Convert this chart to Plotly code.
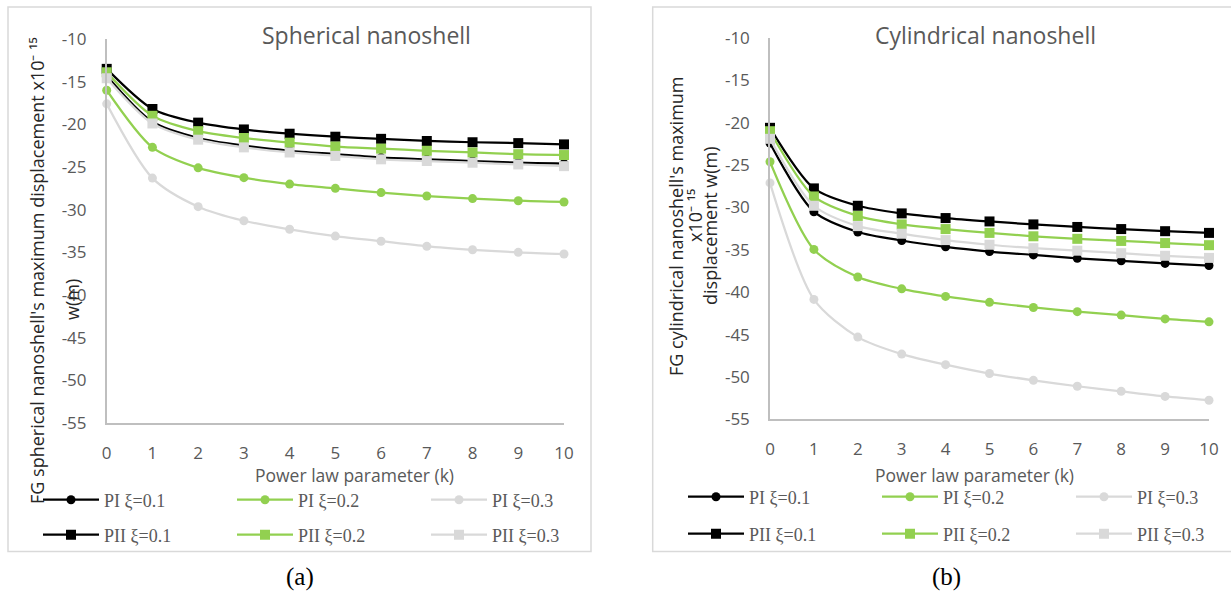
import plotly.graph_objects as go

W, H = 1231, 592

k = list(range(11))
x_ticks = [str(i) for i in k]
y_tickvals = [-10, -15, -20, -25, -30, -35, -40, -45, -50, -55]
y_ticktext = ["-10", "-15", "-20", "-25", "-30", "-35", "-40", "-45", "-50", "-55"]

series_names = ["PI ξ=0.1", "PI ξ=0.2", "PI ξ=0.3", "PII ξ=0.1", "PII ξ=0.2", "PII ξ=0.3"]

# Spherical nanoshell (a)
sph_PI_01 = [-14.3, -19.7, -21.6, -22.5, -23.1, -23.5, -23.9, -24.1, -24.3, -24.5, -24.6]
sph_PI_02 = [-16.0, -22.7, -25.1, -26.25, -27.0, -27.5, -28.0, -28.4, -28.7, -28.95, -29.1]
sph_PI_03 = [-17.6, -26.3, -29.65, -31.3, -32.3, -33.1, -33.7, -34.3, -34.7, -35.0, -35.2]
sph_PII_01 = [-13.5, -18.2, -19.8, -20.6, -21.1, -21.45, -21.7, -21.95, -22.1, -22.2, -22.35]
sph_PII_02 = [-13.9, -19.0, -20.8, -21.6, -22.15, -22.6, -22.85, -23.1, -23.3, -23.5, -23.6]
sph_PII_03 = [-14.6, -19.9, -21.8, -22.7, -23.3, -23.7, -24.1, -24.3, -24.5, -24.7, -24.9]

# Cylindrical nanoshell (b)
cyl_PI_01 = [-22.4, -30.5, -32.9, -33.9, -34.65, -35.2, -35.6, -36.0, -36.3, -36.6, -36.85]
cyl_PI_02 = [-24.6, -34.95, -38.2, -39.6, -40.5, -41.2, -41.8, -42.3, -42.7, -43.15, -43.5]
cyl_PI_03 = [-27.1, -40.85, -45.3, -47.3, -48.55, -49.6, -50.4, -51.1, -51.7, -52.3, -52.75]
cyl_PII_01 = [-20.6, -27.75, -29.8, -30.7, -31.25, -31.65, -32.0, -32.3, -32.55, -32.8, -33.0]
cyl_PII_02 = [-21.0, -28.7, -31.0, -32.0, -32.55, -33.0, -33.4, -33.7, -33.95, -34.2, -34.45]
cyl_PII_03 = [-21.9, -29.8, -32.2, -33.1, -33.85, -34.4, -34.8, -35.1, -35.4, -35.7, -35.95]

colors = ["#000000", "#92D050", "#D9D9D9", "#000000", "#92D050", "#D9D9D9"]
symbols = ["circle", "circle", "circle", "square", "square", "square"]

sph = [sph_PI_01, sph_PI_02, sph_PI_03, sph_PII_01, sph_PII_02, sph_PII_03]
cyl = [cyl_PI_01, cyl_PI_02, cyl_PI_03, cyl_PII_01, cyl_PII_02, cyl_PII_03]

fig = go.Figure()

for i, (name, vals) in enumerate(zip(series_names, sph)):
    fig.add_trace(go.Scatter(
        x=k, y=vals, name=name, mode="lines+markers",
        line=dict(color=colors[i], width=2.25, shape="spline", smoothing=0.8),
        marker=dict(color=colors[i], symbol=symbols[i], size=9 if i < 3 else 10),
        xaxis="x", yaxis="y", cliponaxis=False,
        legend="legend" if i < 3 else "legend2",
    ))
for i, (name, vals) in enumerate(zip(series_names, cyl)):
    fig.add_trace(go.Scatter(
        x=k, y=vals, name=name, mode="lines+markers",
        line=dict(color=colors[i], width=2.25, shape="spline", smoothing=0.8),
        marker=dict(color=colors[i], symbol=symbols[i], size=9 if i < 3 else 10),
        xaxis="x2", yaxis="y2", cliponaxis=False,
        legend="legend3" if i < 3 else "legend4",
    ))

tick_font = dict(family="Open Sans", size=17, color="#595959")

def xaxis_cfg(domain, anchor):
    return dict(domain=domain, anchor=anchor, range=[0, 10], tickvals=k, ticktext=x_ticks,
                showgrid=False, zeroline=False, showline=True, linecolor="#BFBFBF",
                linewidth=1.5, ticks="", tickfont=tick_font, ticklabelstandoff=14,
                fixedrange=True)

def yaxis_cfg(domain, anchor):
    return dict(domain=domain, anchor=anchor, range=[-55, -10], tickvals=y_tickvals,
                ticktext=y_ticktext, showgrid=False, zeroline=False, showline=True,
                linecolor="#BFBFBF", linewidth=1.5, ticks="", tickfont=tick_font,
                ticklabelstandoff=15, fixedrange=True)

def px_x(p):
    return p / W

def px_y(p):
    return 1 - p / H

legend_font = dict(family="Liberation Serif", size=18, color="#595959")

def legend_cfg(xp, yp):
    return dict(orientation="h", x=px_x(xp), y=px_y(yp), xanchor="left", yanchor="middle",
                font=legend_font, entrywidth=123, entrywidthmode="pixels", itemwidth=56,
                bgcolor="rgba(0,0,0,0)", traceorder="normal")

def note(text, xp, yp, size, color, family="Open Sans", angle=0):
    return dict(text=text, x=px_x(xp), y=px_y(yp), xref="paper", yref="paper",
                xanchor="center", yanchor="middle", showarrow=False, textangle=angle,
                font=dict(family=family, size=size, color=color))

annotations = [
    note("Spherical nanoshell", 366, 35, 23, "#595959"),
    note("Cylindrical nanoshell", 985, 35, 23, "#595959"),
    note("Power law parameter (k)", 354, 475, 17.5, "#595959"),
    note("Power law parameter (k)", 974, 475, 17.5, "#595959"),
    note("FG spherical nanoshell's maximum displacement x10⁻ ¹⁵", 37, 271, 18, "#262626", angle=-90),
    note("w(m)", 72, 300, 18, "#262626", angle=-90),
    note("FG cylindrical nanoshell's maximum", 676, 226, 18, "#262626", angle=-90),
    note("x10⁻ ¹⁵", 695, 216, 18, "#262626", angle=-90),
    note("displacement w(m)", 710, 226, 18, "#262626", angle=-90),
    note("(a)", 300, 577, 25, "#000000", family="Liberation Serif"),
    note("(b)", 946, 577, 25, "#000000", family="Liberation Serif"),
]

shapes = [
    dict(type="rect", xref="paper", yref="paper", x0=px_x(8), x1=px_x(591), y0=px_y(551.5),
         y1=px_y(7), line=dict(color="#D9D9D9", width=1.5), layer="below"),
    dict(type="rect", xref="paper", yref="paper", x0=px_x(652.7), x1=px_x(1240), y0=px_y(551.5),
         y1=px_y(7), line=dict(color="#D9D9D9", width=1.5), layer="below"),
]

fig.update_layout(
    width=W, height=H, margin=dict(l=0, r=0, t=0, b=0, autoexpand=False),
    paper_bgcolor="white", plot_bgcolor="white",
    xaxis=xaxis_cfg([106.7 / W, 564 / W], "y"),
    yaxis=yaxis_cfg([1 - 423 / H, 1 - 39 / H], "x"),
    xaxis2=xaxis_cfg([770 / W, 1209 / W], "y2"),
    yaxis2=yaxis_cfg([1 - 419.3 / H, 1 - 38 / H], "x2"),
    legend=legend_cfg(38, 500),
    legend2=legend_cfg(38, 535),
    legend3=legend_cfg(683, 497),
    legend4=legend_cfg(683, 534),
    annotations=annotations,
    shapes=shapes,
    showlegend=True,
)

fig.write_html("out.html", config={"displayModeBar": False})
